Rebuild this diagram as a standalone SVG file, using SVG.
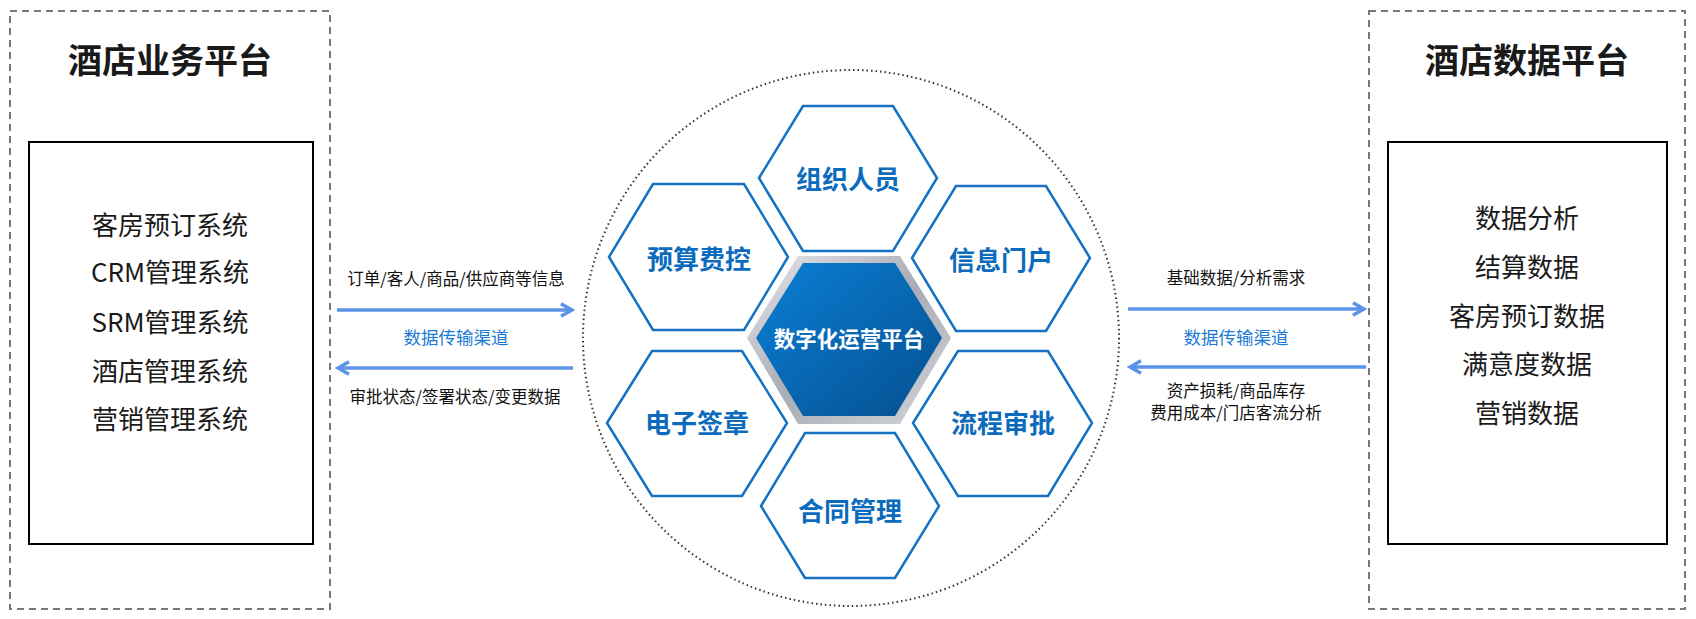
<svg xmlns="http://www.w3.org/2000/svg" width="1696" height="619" viewBox="0 0 1696 619">
<defs>
<style>
text{font-family:"Noto Sans CJK SC","Noto Sans",sans-serif;text-anchor:middle;dominant-baseline:central}
.dash{fill:none;stroke:#777;stroke-width:2;stroke-dasharray:7 5}
.box{fill:#fff;stroke:#000;stroke-width:2}
.title{font-size:34px;font-weight:bold;fill:#1a1a1a}
.item{font-size:26px;fill:#1a1a1a}
.lbl{font-size:16.5px;fill:#111}
.ch{font-size:17.5px;fill:#1a7ad6}
.hex{fill:#fff;stroke:#1572c2;stroke-width:2.5}
.ht{font-size:26px;font-weight:bold;fill:#0d6bbd}
.arr{stroke:#5b93e6;stroke-width:3.5;fill:none}
</style>
<linearGradient id="g" x1="0" y1="0" x2="1" y2="1">
<stop offset="0" stop-color="#0a7fd6"/><stop offset="1" stop-color="#05508f"/>
</linearGradient>
<linearGradient id="s" x1="0" y1="0" x2="1" y2="1">
<stop offset="0" stop-color="#e8e8ec"/><stop offset="0.5" stop-color="#a9acb4"/><stop offset="1" stop-color="#d4d6da"/>
</linearGradient>
<marker id="ah" viewBox="0 0 10 10" refX="8" refY="5" markerWidth="4.5" markerHeight="4.5" orient="auto-start-reverse">
<path d="M1,1 L8,5 L1,9" fill="none" stroke="#5b93e6" stroke-width="2.2"/>
</marker>
</defs>
<g id="left-platform">
<rect class="dash" x="10" y="11" width="320" height="598"/>
<text class="title" x="170" y="58">酒店业务平台</text>
<rect class="box" x="29" y="142" width="284" height="402"/>
<text class="item" x="170" y="223">客房预订系统</text>
<text class="item" x="170" y="270">CRM管理系统</text>
<text class="item" x="170" y="320">SRM管理系统</text>
<text class="item" x="170" y="369">酒店管理系统</text>
<text class="item" x="170" y="417">营销管理系统</text>
</g>
<g id="right-platform">
<rect class="dash" x="1369" y="11" width="316" height="598"/>
<text class="title" x="1527" y="58">酒店数据平台</text>
<rect class="box" x="1388" y="142" width="279" height="402"/>
<text class="item" x="1527" y="216">数据分析</text>
<text class="item" x="1527" y="265">结算数据</text>
<text class="item" x="1527" y="314">客房预订数据</text>
<text class="item" x="1527" y="362">满意度数据</text>
<text class="item" x="1527" y="411">营销数据</text>
</g>
<g id="core">
<circle cx="851" cy="338" r="268" fill="none" stroke="#333" stroke-width="2" stroke-dasharray="1.5 3"/>
</g>
<g id="hex-org"><polygon class="hex" points="759,178 803,106 893,106 937,178 893,251 803,251"/><text class="ht" x="848" y="177">组织人员</text></g>
<g id="hex-budget"><polygon class="hex" points="609,257 653,184 744,184 788,257 744,330 653,330"/><text class="ht" x="699" y="257">预算费控</text></g>
<g id="hex-portal"><polygon class="hex" points="912,258 956,186 1046,186 1090,258 1046,331 956,331"/><text class="ht" x="1001" y="258">信息门户</text></g>
<g id="hex-sign"><polygon class="hex" points="607,423 652,351 742,351 787,423 742,496 652,496"/><text class="ht" x="697" y="421">电子签章</text></g>
<g id="hex-flow"><polygon class="hex" points="913,423 958,351 1048,351 1092,423 1048,496 958,496"/><text class="ht" x="1003" y="421">流程审批</text></g>
<g id="hex-contract"><polygon class="hex" points="761,506 805,433 895,433 939,506 895,578 805,578"/><text class="ht" x="850" y="509">合同管理</text></g>
<g id="hex-center">
<polygon points="747,338 798,256 900,256 951,338 900,424 798,424" fill="url(#s)"/>
<polygon points="756,338 803,263 895,263 942,338 895,416 803,416" fill="url(#g)"/>
<text x="849" y="337" style="font-size:21.5px;font-weight:bold;fill:#fff">数字化运营平台</text>
</g>
<g id="connectors">
<line class="arr" x1="337" y1="310" x2="572" y2="310" marker-end="url(#ah)"/>
<line class="arr" x1="573" y1="368" x2="338" y2="368" marker-end="url(#ah)"/>
<line class="arr" x1="1128" y1="309" x2="1364" y2="309" marker-end="url(#ah)"/>
<line class="arr" x1="1366" y1="367" x2="1130" y2="367" marker-end="url(#ah)"/>
<text class="lbl" x="456" y="278">订单/客人/商品/供应商等信息</text>
<text class="ch" x="456" y="336">数据传输渠道</text>
<text class="lbl" x="455" y="396">审批状态/签署状态/变更数据</text>
<text class="lbl" x="1236" y="277">基础数据/分析需求</text>
<text class="ch" x="1236" y="336">数据传输渠道</text>
<text class="lbl" x="1236" y="390">资产损耗/商品库存</text>
<text class="lbl" x="1236" y="412">费用成本/门店客流分析</text>
</g>
</svg>
